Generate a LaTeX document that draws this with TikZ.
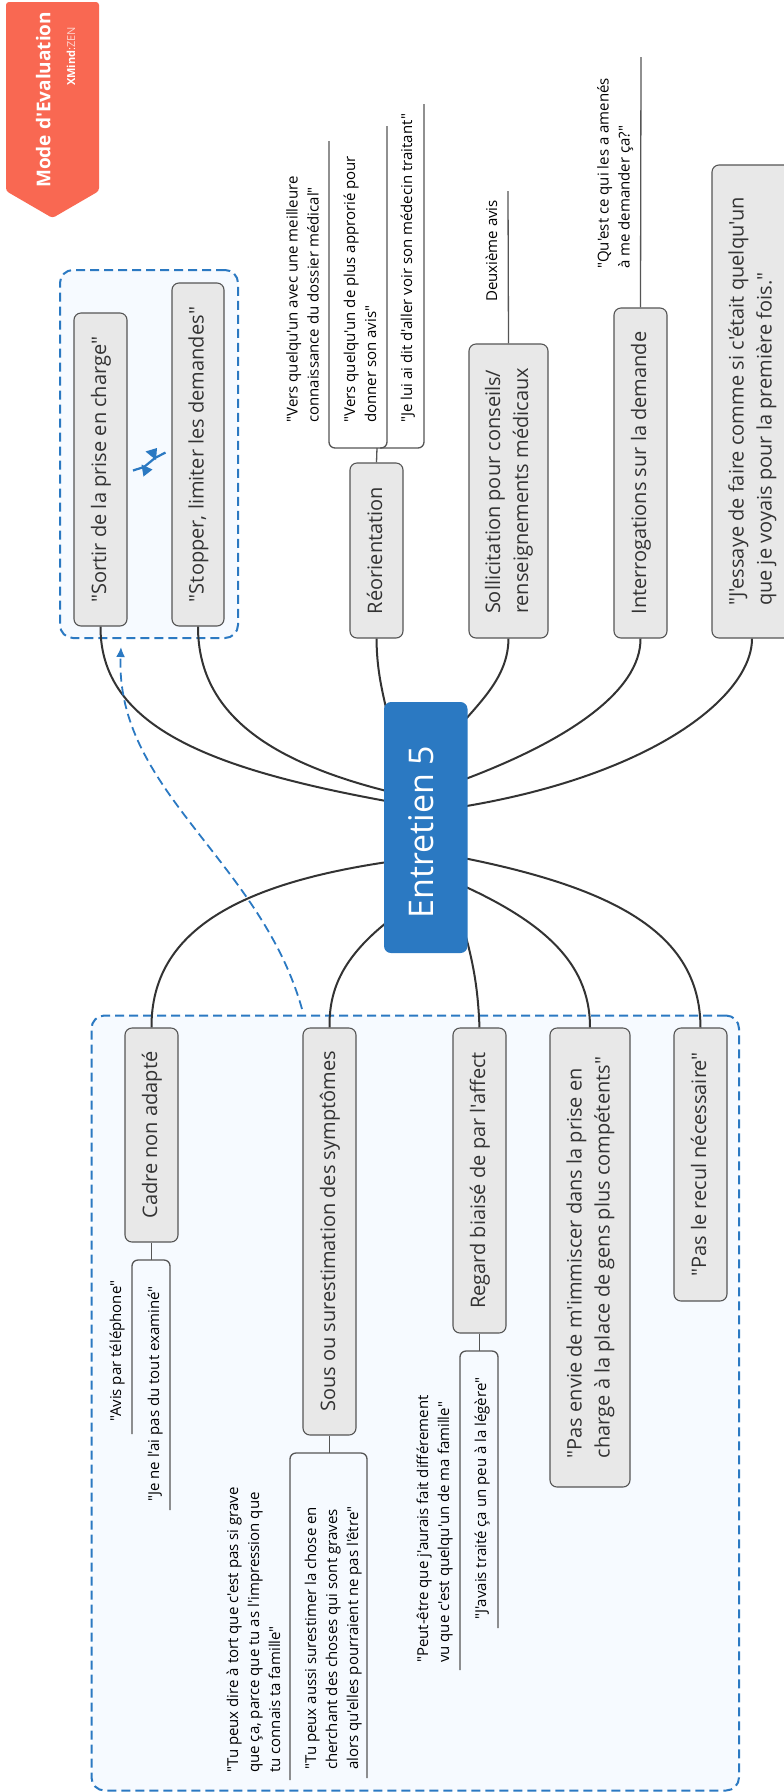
\documentclass[tikz,border=0pt]{standalone}
\usepackage{fontspec}
\setmainfont{Open Sans}[Ligatures=TeXOff]
\usetikzlibrary{arrows.meta,calc}
\definecolor{hub}{HTML}{2B79C2}
\definecolor{grpfill}{HTML}{F6FAFF}
\definecolor{boxfill}{HTML}{E8E8E8}
\definecolor{boxline}{HTML}{555555}
\definecolor{wire}{HTML}{333333}
\definecolor{banner}{HTML}{F96852}
\newcommand{\rtx}[1]{\rotatebox{90}{\begin{tabular}{@{}l@{}}#1\end{tabular}}}
\newcommand{\boxfont}{\fontsize{20}{28}\selectfont}
\newcommand{\notefont}{\fontsize{15}{21}\selectfont}
\tikzset{
  x=1pt,y=-1pt,
  topicbox/.style={draw=boxline,fill=boxfill,line width=1.1pt,rounded corners=7pt,inner sep=0pt,text=wire,font=\boxfont},
  notetext/.style={inner sep=0pt,anchor=south,text=black,font=\notefont},
  grpbox/.style={draw=hub,fill=grpfill,line width=2pt,dash pattern=on 9pt off 5pt,rounded corners=13pt,inner sep=0pt},
  limb/.style={draw=wire,line width=2pt},
  twig/.style={draw=boxline,line width=1.3pt},
  rel/.style={draw=hub,line width=1.8pt},
}
\newcommand{\tbox}[6]{\node[topicbox,minimum width=#3-#2,minimum height=#5-#4] (#1) at ({(#2+#3)/2},{(#4+#5)/2}) {\rtx{#6}};}
\begin{document}
\begin{tikzpicture}
\clip (0,0) rectangle (784,1792);
\fill[white] (0,0) rectangle (784,1792);
% banner
\fill[banner,rounded corners=3pt] (6,2) -- (99,2) -- (99,191) -- (52.5,218) -- (6,191) -- cycle;
\node[inner sep=0pt,text=white,anchor=south,font=\fontsize{19}{22}\selectfont\bfseries] (bt) at (46,188) {\rtx{Mode d'Evaluation}};
\node[inner sep=0pt,text=white,anchor=south,font=\fontsize{11}{13}\selectfont] (bz) at (71,86) {\rotatebox{90}{\textbf{XMind}:\textcolor{white!70!banner}{ZEN}}};
% groups
\node[grpbox,minimum width=178,minimum height=368] (g1) at (149,454) {};
\node[grpbox,minimum width=647.5,minimum height=775] (g2) at (415.25,1403) {};
% hub position helpers
\coordinate (ha) at (426,808);
\coordinate (hb) at (426,800);
\coordinate (hc) at (398,760);
\coordinate (hd) at (426,770);
\coordinate (he) at (426,793);
\coordinate (hf) at (426,812);
\coordinate (hg) at (426,857);
\coordinate (hh) at (426,895);
\coordinate (hi) at (458,910);
\coordinate (hj) at (426,870);
\coordinate (hk) at (426,851);
% topics
\tbox{sortir}{74}{127}{313}{626}{"Sortir de la prise en charge"}
\tbox{stop}{172}{224}{283}{626}{"Stopper, limiter les demandes"}
\tbox{reo}{350}{403}{463}{638}{Réorientation}
\tbox{sol}{469}{548}{344}{638}{Sollicitation pour conseils/\\renseignements médicaux}
\tbox{inter}{614}{667}{308}{638}{Interrogations sur la demande}
\tbox{essai}{712}{792}{165}{638}{"J'essaye de faire comme si c'était quelqu'un\\que je voyais pour la première fois."}
\tbox{cadre}{125}{178}{1028}{1242}{Cadre non adapté}
\tbox{sous}{303}{356}{1028}{1435}{Sous ou surestimation des symptômes}
\tbox{regard}{453}{506}{1028}{1333}{Regard biaisé de par l'affect}
\tbox{envie}{550}{630}{1028}{1487}{"Pas envie de m'immiscer dans la prise en\\charge à la place de gens plus compétents"}
\tbox{recul}{674}{727}{1028}{1301}{"Pas le recul nécessaire"}
% limbs
\draw[limb] (sortir.south) .. controls (100,735) and (230,775) .. (ha);
\draw[limb] (stop.south) .. controls (198,720) and (280,770) .. (hb);
\draw[limb] (reo.south) .. controls (377,680) and (385,700) .. (hc);
\draw[limb] (sol.south) .. controls (508,690) and (460,715) .. (hd);
\draw[limb] (inter.south) .. controls (641,690) and (570,745) .. (he);
\draw[limb] (essai.south) .. controls (752,700) and (640,785) .. (hf);
\draw[limb] (cadre.north) .. controls (151,930) and (240,878) .. (hg);
\draw[limb] (sous.north) .. controls (329,985) and (345,945) .. (hh);
\draw[limb] (regard.north) .. controls (478,990) and (474,960) .. (hi);
\draw[limb] (envie.north) .. controls (590,960) and (540,915) .. (hj);
\draw[limb] (recul.north) .. controls (700,930) and (610,883) .. (hk);
% root
\node[fill=hub,rounded corners=7pt,minimum width=83.5,minimum height=251,inner sep=0pt,text=white,font=\fontsize{34}{40}\selectfont] (root) at (425.75,827.5) {\rtx{Entretien 5\hspace{9pt}\mbox{}}};
% note brackets
\coordinate (r1) at (329,141); \coordinate (r2) at (387,126); \coordinate (r3) at (424,104);
\draw[twig] (reo.north) -- (377,448) coordinate (rj);
\draw[twig,rounded corners=6pt] (r1) -- (329,448) -- (424,448) -- (r3);
\draw[twig,rounded corners=6pt] (r2) -- (387,448) -- (380,448);
\node[notetext] (n1) at (304,423) {\rtx{"Vers quelqu'un avec une meilleure\\connaissance du dossier médical"}};
\node[notetext] (n2) at (361.5,423) {\rtx{"Vers quelqu'un de plus approrié pour\\donner son avis"}};
\node[notetext] (n3) at (408,423) {\rtx{"Je lui ai dit d'aller voir son médecin traitant"}};
\coordinate (s1) at (508,191);
\draw[twig] (sol.north) -- (s1);
\node[notetext] (n4) at (493,302) {\rtx{Deuxième avis}};
\coordinate (i1) at (641,57);
\draw[twig] (inter.north) -- (i1);
\node[notetext] (n5) at (615,269) {\rtx{"Qu'est ce qui les a amenés\\à me demander ça?"}};
% cadre notes
\coordinate (c1) at (132,1434); \coordinate (c2) at (170,1510);
\draw[twig] (cadre.south) -- (151.5,1260);
\draw[twig,rounded corners=6pt] (c1) -- (132,1260) -- (170,1260) -- (c2);
\node[notetext] (n6) at (117,1422) {\rtx{"Avis par téléphone"}};
\node[notetext] (n7) at (155,1502) {\rtx{"Je ne l'ai pas du tout examiné"}};
% sous notes
\coordinate (o1) at (290,1780); \coordinate (o2) at (367,1778);
\draw[twig] (sous.south) -- (329.5,1453);
\draw[twig,rounded corners=6pt] (o1) -- (290,1453) -- (367,1453) -- (o2);
\node[notetext] (n8) at (255,1773) {\rtx{"Tu peux dire à tort que c'est pas si grave\\que ça, parce que tu as l'impression que\\tu connais ta famille"}};
\node[notetext] (n9) at (333,1770) {\rtx{"Tu peux aussi surestimer la chose en\\cherchant des choses qui sont graves\\alors qu'elles pourraient ne pas l'être"}};
% regard notes
\coordinate (e1) at (460,1670); \coordinate (e2) at (498,1628);
\draw[twig] (regard.south) -- (479.5,1351);
\draw[twig,rounded corners=6pt] (e1) -- (460,1351) -- (498,1351) -- (e2);
\node[notetext] (n10) at (434.5,1663) {\rtx{"Peut-être que j'aurais fait différement\\vu que c'est quelqu'un de ma famille"}};
\node[notetext] (n11) at (482,1620) {\rtx{"J'avais traité ça un peu à la légère"}};
% relationships
\coordinate (x1) at (133,470.5); \coordinate (x2) at (165.5,452.5);
\draw[rel,line width=2.2pt] (x1) -- (144,467) -- (155,458) -- (x2);
\fill[hub] (141.5,464.5) -- (152.5,469.5) -- (143.5,476.5) -- cycle;
\fill[hub] (145.5,451.5) -- (157,448) -- (156,460) -- cycle;
\coordinate (a1) at (302,1009); \coordinate (a2) at (121,647);
\draw[rel,dash pattern=on 9pt off 5pt,-{Latex[length=10pt,width=9pt]}] (a1) .. controls (260,860) and (115,790) .. (a2);
\end{tikzpicture}
\end{document}
